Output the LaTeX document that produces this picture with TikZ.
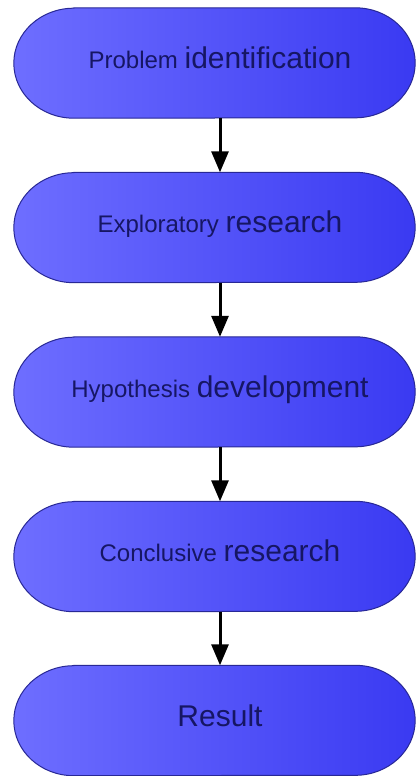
\documentclass[tikz,border=0pt]{standalone}
\usepackage{fontspec}
\setmainfont{Liberation Sans}
\usetikzlibrary{arrows.meta,calc}
\definecolor{txtblue}{RGB}{22,22,100}
\definecolor{edgeblue}{RGB}{40,40,150}
\definecolor{fillL}{RGB}{110,110,255}
\definecolor{fillR}{RGB}{58,58,242}
\newcommand\twotxt[2]{{\fontsize{24}{28}\selectfont #1 \fontsize{30}{34}\selectfont #2}}
\newcommand\bigtxt[1]{{\fontsize{30}{34}\selectfont #1}}
\newcommand\stadiumpath[1]{%
  \path[stadium] ($(#1.north west)+(60,0)$) -- ($(#1.north east)+(-60,0)$)
    arc[start angle=90,end angle=-90,x radius=60,y radius=55]
    -- ($(#1.south west)+(60,0)$)
    arc[start angle=270,end angle=90,x radius=60,y radius=55] -- cycle;}
\tikzset{
  boxnode/.style={rectangle,minimum width=401pt,minimum height=110pt,inner sep=0pt},
  stadium/.style={draw=edgeblue,line width=1pt,left color=fillL,right color=fillR},
  label/.style={anchor=base,text=txtblue,inner sep=0pt},
  flow/.style={line width=3pt,-{Triangle[length=21pt,width=17pt]}}
}
\begin{document}
\begin{tikzpicture}[x=1pt,y=1pt]
\useasboundingbox (0,0) rectangle (418,-776);
\fill[white] (0,0) rectangle (418,-776);
\node[boxnode] (b1) at (214.5,-63) {};
\node[boxnode] (b2) at (214.5,-227.5) {};
\node[boxnode] (b3) at (214.5,-392) {};
\node[boxnode] (b4) at (214.5,-556.5) {};
\node[boxnode] (b5) at (214.5,-720.5) {};
\stadiumpath{b1}
\stadiumpath{b2}
\stadiumpath{b3}
\stadiumpath{b4}
\stadiumpath{b5}
\node[label] (t1) at (220,-68) {\twotxt{Problem}{identification}};
\node[label] (t2) at (220,-232.5) {\twotxt{Exploratory}{research}};
\node[label] (t3) at (220,-397) {\twotxt{Hypothesis}{development}};
\node[label] (t4) at (220,-561.5) {\twotxt{Conclusive}{research}};
\node[label] (t5) at (220,-726) {\bigtxt{Result}};
\draw[flow] (b1.south -| t1.base) -- (b2.north -| t1.base);
\draw[flow] (b2.south -| t1.base) -- (b3.north -| t1.base);
\draw[flow] (b3.south -| t1.base) -- (b4.north -| t1.base);
\draw[flow] (b4.south -| t1.base) -- (b5.north -| t1.base);
\end{tikzpicture}
\end{document}
